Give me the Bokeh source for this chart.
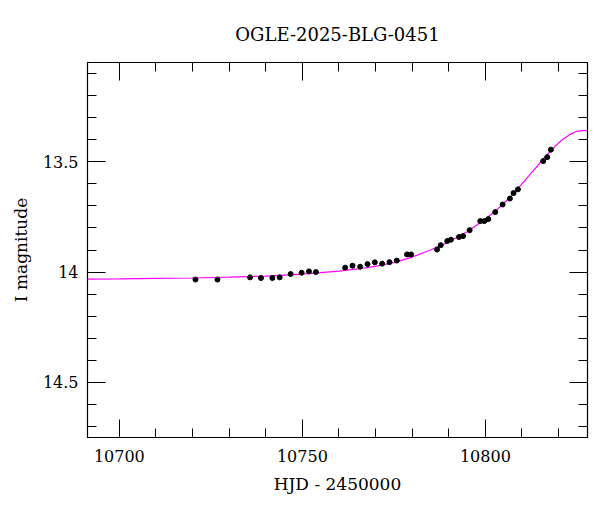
from bokeh.plotting import figure
from bokeh.models import Range1d, LinearAxis, FixedTicker
from bokeh.embed import file_html
from bokeh.resources import INLINE

# Observed photometry (HJD - 2450000, I magnitude)
obs_hjd = [10720.8, 10726.8, 10735.7, 10738.7, 10741.8, 10743.8, 10746.8, 10749.8,
           10751.8, 10753.7, 10761.7, 10763.7, 10765.8, 10767.8, 10769.8, 10771.8,
           10773.8, 10775.8, 10778.6, 10779.7, 10786.8, 10787.8, 10789.6, 10790.6,
           10792.8, 10793.9, 10795.7, 10798.6, 10799.7, 10800.8, 10802.7, 10804.7,
           10806.7, 10807.7, 10808.9, 10815.8, 10816.9, 10817.9]
obs_mag = [14.034, 14.034, 14.024, 14.027, 14.027, 14.024, 14.009, 14.003,
           13.997, 14.000, 13.980, 13.971, 13.976, 13.964, 13.956, 13.962,
           13.955, 13.948, 13.920, 13.920, 13.898, 13.878, 13.859, 13.853,
           13.841, 13.837, 13.810, 13.769, 13.769, 13.760, 13.728, 13.694,
           13.667, 13.642, 13.625, 13.497, 13.479, 13.445]

# Model light curve
model_hjd = [10690, 10700, 10710, 10720, 10730, 10740, 10750, 10760, 10765, 10770,
             10775, 10780, 10785, 10790, 10795, 10800, 10802.5, 10805, 10807.5,
             10810, 10813, 10816, 10819, 10821, 10823, 10825, 10827, 10829]
model_mag = [14.032, 14.031, 14.029, 14.027, 14.023, 14.018, 14.009, 13.996, 13.986,
             13.974, 13.957, 13.932, 13.900, 13.863, 13.817, 13.759, 13.727, 13.689,
             13.648, 13.600, 13.542, 13.484, 13.430, 13.400, 13.377, 13.362, 13.358,
             13.361]

x_major = [10700, 10750, 10800]
x_minor = [10690, 10700, 10710, 10720, 10730, 10740, 10750, 10760, 10770, 10780,
           10790, 10800, 10810, 10820]
y_major = [13.5, 14.0, 14.5]
y_minor = [13.1, 13.2, 13.3, 13.4, 13.5, 13.6, 13.7, 13.8, 13.9, 14.0, 14.1, 14.2,
           14.3, 14.4, 14.5, 14.6, 14.7]
y_labels = {13.5: "13.5", 14: "14", 14.5: "14.5"}

FONT = "DejaVu Serif"

p = figure(width=596, height=500, output_backend="svg", toolbar_location=None,
           x_range=Range1d(10691.3, 10827.9), y_range=Range1d(14.75, 13.05),
           min_border_left=87, min_border_right=9, min_border_top=62,
           min_border_bottom=63, title="OGLE-2025-BLG-0451")
p.grid.visible = False
p.outline_line_color = "black"
p.outline_line_width = 1.2
p.background_fill_color = "white"
p.border_fill_color = "white"

p.title.align = "center"
p.title.text_font = FONT
p.title.text_font_size = "18px"
p.title.text_font_style = "normal"
p.title.text_color = "black"
p.title.standoff = 36

xt = FixedTicker(ticks=x_major, minor_ticks=x_minor)
yt = FixedTicker(ticks=y_major, minor_ticks=y_minor)


def style(ax, labels=True):
    ax.major_tick_in = 18
    ax.major_tick_out = 0
    ax.minor_tick_in = 9
    ax.minor_tick_out = 0
    ax.major_tick_line_color = "black"
    ax.minor_tick_line_color = "black"
    ax.axis_line_color = "black"
    ax.major_label_text_font = FONT
    ax.major_label_text_color = "black"
    ax.axis_label_text_font = FONT
    ax.axis_label_text_font_style = "normal"
    ax.axis_label_text_color = "black"
    ax.axis_label_text_font_size = "17px"
    if labels:
        ax.major_label_text_font_size = "16px"
    else:
        ax.major_label_text_font_size = "0px"
        ax.major_label_standoff = 0


xa = p.xaxis[0]
xa.ticker = xt
style(xa)
xa.axis_label = "HJD - 2450000"
xa.major_label_standoff = 12
xa.axis_label_standoff = 9

ya = p.yaxis[0]
ya.ticker = yt
style(ya)
ya.axis_label = "I magnitude"
ya.major_label_overrides = y_labels
ya.major_label_standoff = 9
ya.axis_label_standoff = 9

top = LinearAxis(ticker=FixedTicker(ticks=x_major, minor_ticks=x_minor))
style(top, labels=False)
top.major_label_overrides = {v: "" for v in x_major}
p.add_layout(top, "above")
right = LinearAxis(ticker=FixedTicker(ticks=y_major, minor_ticks=y_minor))
style(right, labels=False)
right.major_label_overrides = {v: "" for v in y_major}
p.add_layout(right, "right")

p.line(model_hjd, model_mag, line_color="#ff00ff", line_width=1.2)
p.scatter(obs_hjd, obs_mag, size=5, fill_color="black", line_color="black")

open("out.html", "w").write(file_html(p, INLINE))
